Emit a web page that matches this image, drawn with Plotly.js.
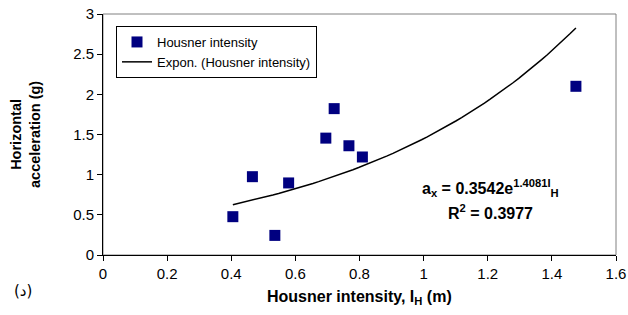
<!DOCTYPE html>
<html><head><meta charset="utf-8">
<script src="https://cdn.plot.ly/plotly-3.0.1.min.js"></script>
<style>body{margin:0;background:#fff}#c{width:628px;height:315px}</style>
</head><body><div id="c"></div>
<script>
const intensityX = [0.405, 0.466, 0.536, 0.579, 0.695, 0.721, 0.767, 0.809, 1.475];
const accelY = [0.477, 0.975, 0.244, 0.897, 1.455, 1.822, 1.36, 1.22, 2.10];
const fitA = 0.3542, fitB = 1.4081;
const xTicks = [0, 0.2, 0.4, 0.6, 0.8, 1, 1.2, 1.4, 1.6];
const yTicks = [0, 0.5, 1, 1.5, 2, 2.5, 3];

const xmin = Math.min(...intensityX), xmax = Math.max(...intensityX);
const fx = [], fy = [];
for (let i = 0; i <= 60; i++) { const x = xmin + (xmax - xmin) * i / 60; fx.push(x); fy.push(fitA * Math.exp(fitB * x)); }

const F = 'Arial, Liberation Sans, DejaVu Sans, sans-serif';
const L = 103, T = 14, W = 513, H = 241;
const px = x => (x - L) / W, py = y => (T + H - y) / H;

const traces = [
  {x: intensityX, y: accelY, mode: 'markers', type: 'scatter', name: 'Housner intensity',
   marker: {symbol: 'square', size: 11, color: '#000080'}},
  {x: fx, y: fy, mode: 'lines', type: 'scatter', name: 'Expon. (Housner intensity)',
   line: {color: '#000', width: 1.5}}
];
const layout = {
  width: 628, height: 315, margin: {l: L, r: 628 - L - W, t: T, b: 315 - T - H},
  paper_bgcolor: '#fff', plot_bgcolor: '#fff', font: {family: F, size: 15, color: '#000'},
  showlegend: true,
  legend: {x: px(116), y: py(26), xanchor: 'left', yanchor: 'top', bgcolor: '#fff', bordercolor: '#000', borderwidth: 1,
    font: {family: F, size: 13, color: '#000'}},
  xaxis: {range: [0, 1.6], tickvals: xTicks, ticktext: xTicks.map(String), showgrid: false, zeroline: false,
    showline: true, linecolor: '#000', linewidth: 1, ticks: 'outside', ticklen: 5, tickcolor: '#000',
    tickfont: {size: 15}},
  yaxis: {range: [0, 3], tickvals: yTicks, ticktext: yTicks.map(String), showgrid: false, zeroline: false,
    showline: true, linecolor: '#000', linewidth: 1, ticks: 'outside', ticklen: 5, tickcolor: '#000',
    tickfont: {size: 15}},
  shapes: [
    {type: 'rect', xref: 'paper', yref: 'paper', x0: 0, x1: 1, y0: 0, y1: 1, line: {color: '#808080', width: 1}, layer: 'below'}
  ],
  annotations: [
    {xref: 'paper', yref: 'paper', x: px(25), y: py(135), text: '<b>Horizontal<br>acceleration (g)</b>', textangle: -90,
     showarrow: false, font: {size: 14.5}, xanchor: 'center', yanchor: 'middle'},
    {xref: 'paper', yref: 'paper', x: 0.5, y: py(297), text: '<b>Housner intensity, I<sub>H</sub> (m)</b>',
     showarrow: false, font: {size: 16}, xanchor: 'center', yanchor: 'middle'},
    {xref: 'paper', yref: 'paper', x: px(490), y: py(188), text: '<b>a<sub>x</sub> = 0.3542e<sup>1.4081I</sup><sub>H</sub></b>',
     showarrow: false, font: {size: 16}, xanchor: 'center', yanchor: 'middle'},
    {xref: 'paper', yref: 'paper', x: px(490), y: py(212), text: '<b>R<sup>2</sup> = 0.3977</b>',
     showarrow: false, font: {size: 16}, xanchor: 'center', yanchor: 'middle'},
    {xref: 'paper', yref: 'paper', x: px(23), y: py(291), text: '(د)',
     showarrow: false, font: {size: 15, family: 'DejaVu Sans, Arial'}, xanchor: 'center', yanchor: 'middle'}
  ]
};
Plotly.newPlot('c', traces, layout, {staticPlot: true});
</script></body></html>
